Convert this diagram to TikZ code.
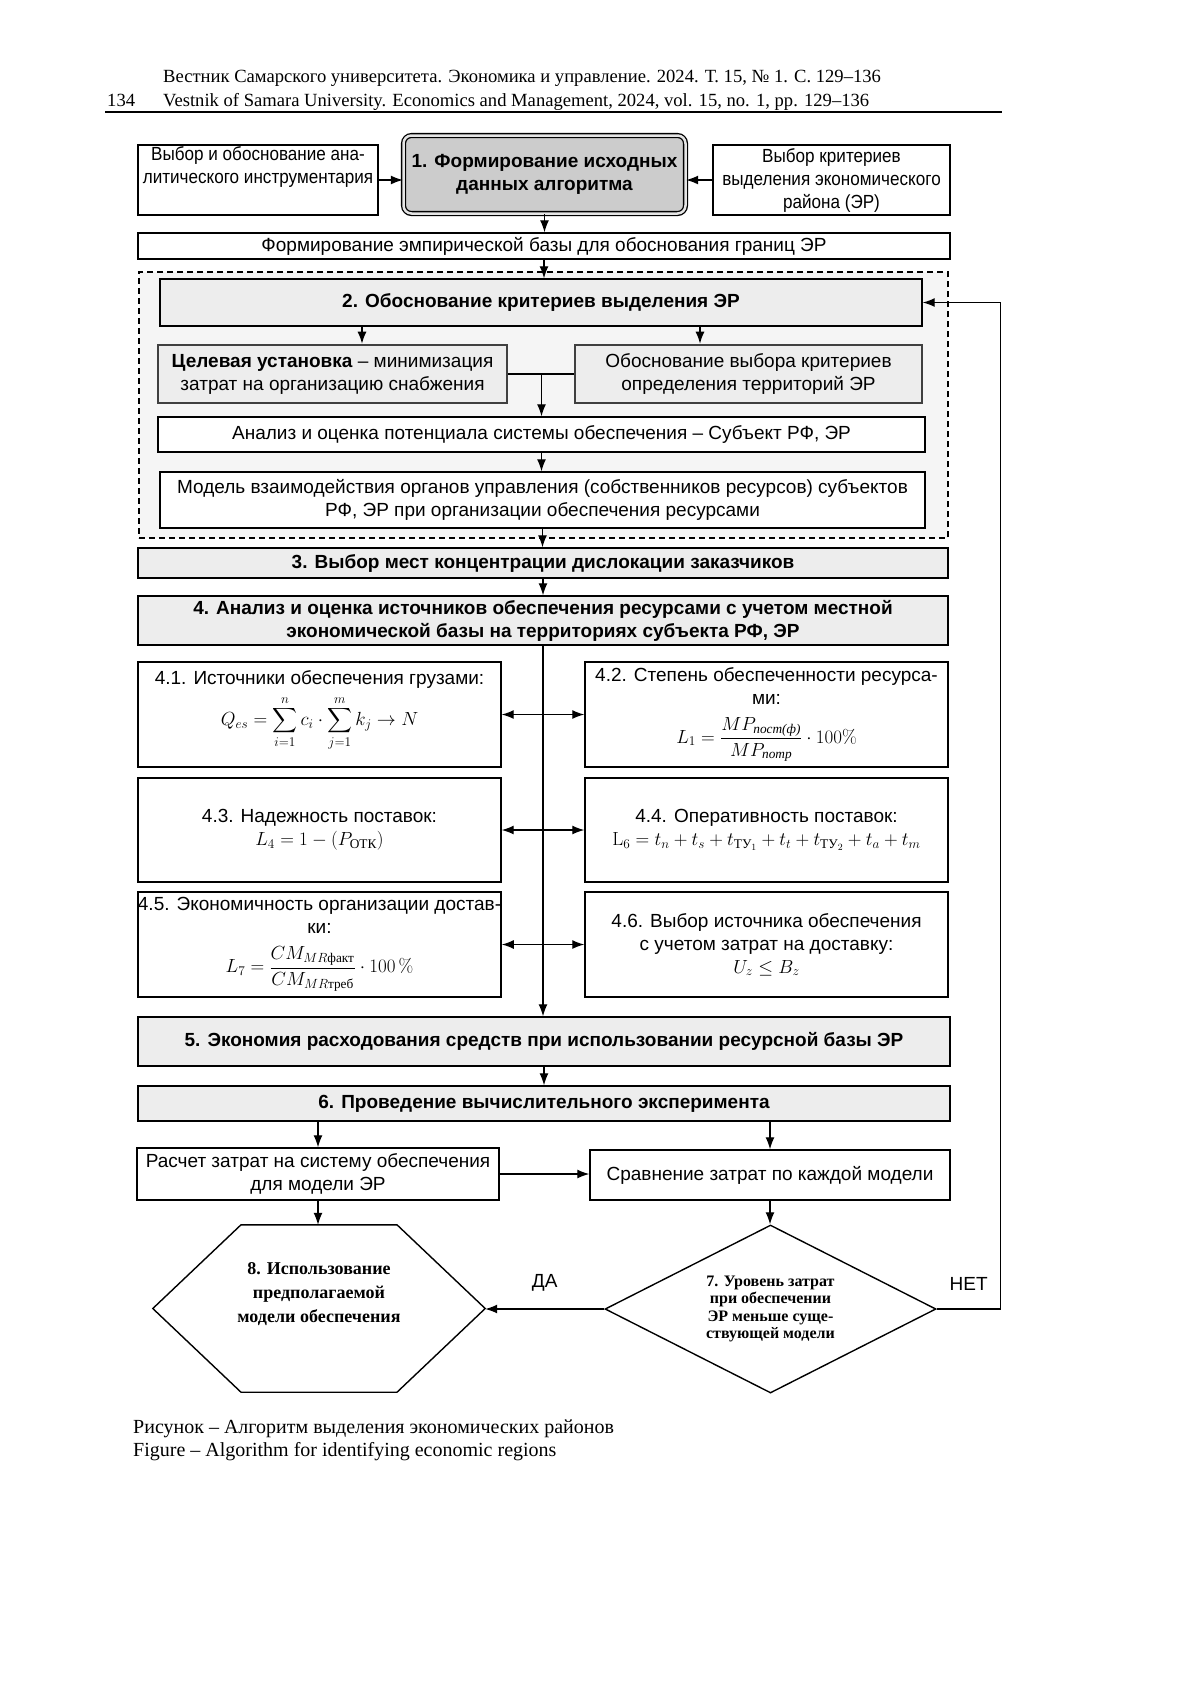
\RequirePackage{fix-cm}
\documentclass[tikz,border=0pt]{standalone}
\usepackage{amsmath}
\usepackage[no-math]{fontspec}
\setmainfont{Liberation Sans}
\newfontfamily\serifcyr{Liberation Serif}
\newfontfamily\narrowsans{Liberation Sans}[FakeStretch=0.9]
\usetikzlibrary{arrows.meta,shapes.geometric,positioning}
\newcommand{\boxfont}{\fontsize{19}{23}\selectfont}
\colorlet{boxGray}{black!7}
\colorlet{frameGray}{black!4}
\colorlet{headGray}{black!20}
\tikzset{>={Latex[length=12pt,width=9pt]}}
\tikzset{
    box/.style={draw, fill=white, line width=1.4pt, inner sep=0pt, align=center, font=\boxfont},
    graybox/.style={box, fill=boxGray, font=\boxfont\bfseries},
    thickbox/.style={box, fill=boxGray, draw=black!75, line width=2.6pt},
    arr/.style={->, line width=1.3pt},
    dblarr/.style={<->, line width=1.3pt},
    textline/.style={anchor=base west, inner sep=0pt, font=\serifcyr\fontsize{18.6}{22}\selectfont}
}

\begin{document}
\begin{tikzpicture}[x=1pt, y=-1pt]
    \fill[white] (0,0) rectangle (1200,1698);
    \useasboundingbox (0,0) rectangle (1200,1698);

    \node[textline] (zag1) at (163,82) {Вестник Самарского университета. Экономика и управление. 2024. Т. 15, № 1. С. 129–136};
    \node[textline] (zag2) at (163,106) {Vestnik of Samara University. Economics and Management, 2024, vol. 15, no. 1, pp. 129–136};
    \node[textline] (page) at (107,106) {134};
    \draw[line width=2pt] (105,112) -- (1002,112);

    \node[box, minimum width=240pt, minimum height=70pt, font=\narrowsans\boxfont] (b1l) at (258,180) {Выбор и обоснование ана-\\литического инструментария\\\strut};
    \node[draw, line width=1.3pt, double=black!10, double distance=2.5pt, rounded corners=8pt, fill=headGray,
          minimum width=282pt, minimum height=78pt, inner sep=0pt, align=center, font=\boxfont\bfseries] (b1) at (544.5,174.5) {1. Формирование исходных\\данных алгоритма};
    \node[box, minimum width=237pt, minimum height=70pt, font=\narrowsans\boxfont] (b1r) at (831.5,180) {Выбор критериев\\выделения экономического\\района (ЭР)};
    \node[box, minimum width=812pt, minimum height=26pt] (emp) at (544,246) {Формирование эмпирической базы для обоснования границ ЭР};

    \node[draw, line width=1.3pt, dash pattern=on 6pt off 4pt, fill=frameGray, minimum width=809pt, minimum height=266pt] (ramka) at (543.5,405) {};
    \node[graybox, minimum width=762pt, minimum height=47pt] (b2) at (541,302.5) {2. Обоснование критериев выделения ЭР};
    \node[thickbox, minimum width=349pt, minimum height=58pt] (cel) at (332.5,374) {\textbf{Целевая установка} – минимизация\\затрат на организацию снабжения};
    \node[thickbox, minimum width=347pt, minimum height=58pt] (obos) at (748.5,374) {Обоснование выбора критериев\\определения территорий ЭР};
    \node[box, minimum width=767pt, minimum height=35pt] (anal) at (541.5,434.5) {Анализ и оценка потенциала системы обеспечения – Субъект РФ, ЭР};
    \node[box, minimum width=765pt, minimum height=56pt] (model) at (542.5,500) {Модель взаимодействия органов управления (собственников ресурсов) субъектов\\РФ, ЭР при организации обеспечения ресурсами};

    \node[graybox, minimum width=810pt, minimum height=30pt] (b3) at (543,563) {3. Выбор мест концентрации дислокации заказчиков};
    \node[graybox, minimum width=810pt, minimum height=49pt] (b4) at (543,620.5) {4. Анализ и оценка источников обеспечения ресурсами с учетом местной\\экономической базы на территориях субъекта РФ, ЭР};

    \node[box, minimum width=363pt, minimum height=105pt] (b41) at (319.5,714.5) {4.1. Источники обеспечения грузами:\\[7pt]\raisebox{0pt}[\height][\dimexpr\depth+8pt\relax]{$Q_{es}=\displaystyle\sum_{i=1}^{n}c_i\cdot\sum_{j=1}^{m}k_j\to N$}};
    \node[box, minimum width=363pt, minimum height=105pt] (b42) at (766.5,714.5) {4.2. Степень обеспеченности ресурса-\\ми:\\[12pt]$L_1=\dfrac{MP_{\text{\serifcyr\itshape пост(ф)}}}{MP_{\text{\serifcyr\itshape потр}}}\cdot 100\%$};
    \node[box, minimum width=363pt, minimum height=104pt] (b43) at (319.5,830) {4.3. Надежность поставок:\\$L_4=1-(P_{\text{\serifcyr ОТК}})$};
    \node[box, minimum width=363pt, minimum height=104pt] (b44) at (766.5,830) {4.4. Оперативность поставок:\\$\mathrm{L}_6=t_n+t_s+t_{\text{\serifcyr ТУ}_1}+t_t+t_{\text{\serifcyr ТУ}_2}+t_a+t_m$};
    \node[box, minimum width=363pt, minimum height=105pt] (b45) at (319.5,944.5) {4.5. Экономичность организации достав-\\ки:\\[12pt]$L_7=\dfrac{CM_{MR\text{\serifcyr факт}}}{CM_{MR\text{\serifcyr треб}}}\cdot 100\,\%$};
    \node[box, minimum width=363pt, minimum height=105pt] (b46) at (766.5,944.5) {4.6. Выбор источника обеспечения\\с учетом затрат на доставку:\\$U_z\le B_z$};

    \node[graybox, minimum width=812pt, minimum height=49pt] (b5) at (544,1041.5) {5. Экономия расходования средств при использовании ресурсной базы ЭР};
    \node[graybox, minimum width=812pt, minimum height=35pt] (b6) at (544,1103.5) {6. Проведение вычислительного эксперимента};
    \node[box, minimum width=362pt, minimum height=52pt] (rasch) at (318,1174) {Расчет затрат на систему обеспечения\\для модели ЭР};
    \node[box, minimum width=360pt, minimum height=50pt] (sravn) at (770,1175) {Сравнение затрат по каждой модели};

    \node[minimum width=332pt, minimum height=167pt, inner sep=0pt,
          align=center, font=\serifcyr\bfseries\fontsize{18}{24}\selectfont] (b8) at (319,1308.5) {8. Использование\\предполагаемой\\модели обеспечения\\\strut};
    \draw[line width=1.4pt] (b8.west) -- ([xshift=-78pt]b8.north) -- ([xshift=78pt]b8.north) -- (b8.east)
          -- ([xshift=78pt]b8.south) -- ([xshift=-78pt]b8.south) -- cycle;
    \node[draw, line width=1.4pt, diamond, aspect=2, minimum width=331pt, minimum height=168pt, inner sep=0pt,
          align=center, font=\serifcyr\bfseries\fontsize{16}{17.5}\selectfont] (b7) at (770.5,1309) {7. Уровень затрат\\при обеспечении\\ЭР меньше суще-\\ствующей модели};

    \node[textline, font=\serifcyr\fontsize{20}{23}\selectfont] (pod1) at (133,1433) {Рисунок – Алгоритм выделения экономических районов};
    \node[textline, font=\serifcyr\fontsize{20}{23}\selectfont] (pod2) at (133,1456) {Figure – Algorithm for identifying economic regions};

    \draw[arr] (b1l.east) -- (b1l.east -| b1.west);
    \draw[arr] (b1r.west) -- (b1r.west -| b1.east);
    \draw[arr] (b1.south) -- (b1.south |- emp.north);
    \draw[arr] (emp.south) -- (emp.south |- b2.north);
    \draw[arr] ([xshift=29.5pt]cel.north |- b2.south) -- ([xshift=29.5pt]cel.north);
    \draw[arr] ([xshift=-48.5pt]obos.north |- b2.south) -- ([xshift=-48.5pt]obos.north);
    \draw[line width=1.3pt] (cel.east) -- (obos.west);
    \draw[arr] (cel.east -| anal.north) -- (anal.north);
    \draw[arr] (anal.south) -- (anal.south |- model.north);
    \draw[arr] (model.south) -- (model.south |- b3.north);
    \draw[arr] (b3.south) -- (b3.south |- b4.north);
    \draw[arr] (b4.south) -- (b4.south |- b5.north);

    \draw[dblarr] (b41.east) -- (b42.west);
    \draw[dblarr] (b43.east) -- (b44.west);
    \draw[dblarr] (b45.east) -- (b46.west);

    \draw[arr] (b5.south) -- (b5.south |- b6.north);
    \draw[arr] (b6.south -| rasch.north) -- (rasch.north);
    \draw[arr] (b6.south -| sravn.north) -- (sravn.north);
    \draw[arr] (rasch.east) -- (rasch.east -| sravn.west);
    \draw[arr] (rasch.south) -- (rasch.south |- b8.north);
    \draw[arr] (sravn.south) -- (sravn.south |- b7.north);
    \draw[arr] (b7.west) -- (b7.west -| b8.east) node[midway, above=14pt, font=\boxfont] {ДА};
    \draw[arr] (b7.east) -- ++(64,0) node[midway, above=15pt, font=\boxfont] {НЕТ} |- (b2.east);
\end{tikzpicture}
\end{document}
